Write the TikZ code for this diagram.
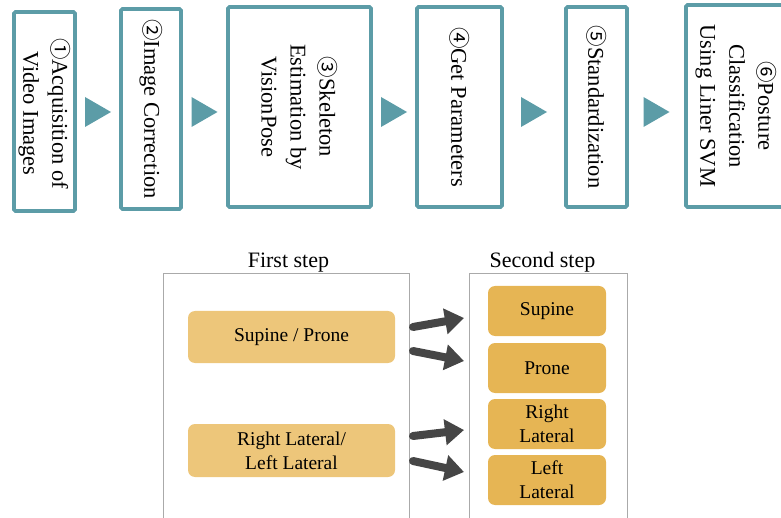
\documentclass[tikz,border=0pt]{standalone}
\usepackage{fontspec}
\setmainfont{Liberation Serif}
\newfontfamily\numfont{Noto Sans CJK JP}
\usetikzlibrary{calc,arrows.meta}
\definecolor{tealline}{RGB}{92,156,167}
\definecolor{lightgold}{RGB}{237,198,122}
\definecolor{gold}{RGB}{230,181,84}
\definecolor{framegray}{RGB}{170,170,170}
\definecolor{arrowgray}{RGB}{70,70,70}
\newcommand{\cnum}[1]{{\numfont\fontsize{21.5}{21.5}\selectfont #1}}

\begin{document}
\begin{tikzpicture}[x=1pt,y=-1pt,
  stagebox/.style={draw=tealline, line width=3.8pt, rounded corners=1.5pt, inner sep=0pt, fill=white},
  stagetext/.style={rotate=-90, align=center, font=\fontsize{22.5}{29}\selectfont, inner sep=0pt},
  flowtip/.style={fill=tealline},
  frame/.style={draw=framegray, line width=0.9pt, inner sep=0pt, anchor=north west},
  steplabel/.style={font=\fontsize{22}{26}\selectfont, anchor=south, inner sep=0.5pt},
  groupbox/.style={fill=lightgold, rounded corners=7pt, align=center, font=\fontsize{19.5}{24}\selectfont, inner sep=0pt},
  classbox/.style={fill=gold, rounded corners=7pt, align=center, font=\fontsize{19.5}{24}\selectfont, inner sep=0pt},
  bigarrow/.style={draw=arrowgray, line width=8pt, line cap=round, -{Triangle[length=19pt,width=25pt]}}
]
\useasboundingbox (0,0) rectangle (781,518);
\clip (0,0) rectangle (781,518);

% processing stages
\node[stagebox, minimum width=61pt,  minimum height=199pt] (b1) at (44.5,111.5) {};
\node[stagebox, minimum width=60pt,  minimum height=200pt] (b2) at (151,109) {};
\node[stagebox, minimum width=143pt, minimum height=200pt] (b3) at (299.5,107) {};
\node[stagebox, minimum width=85pt,  minimum height=200pt] (b4) at (459.5,107) {};
\node[stagebox, minimum width=61pt,  minimum height=200pt] (b5) at (596.5,107) {};
\node[stagebox, minimum width=100pt, minimum height=202pt] (b6) at (736,106) {};

\node[stagetext] (l1) at ($(b1.center)+(0,2)$) {\cnum{①}Acquisition of\\Video Images};
\node[stagetext] (l2) at (b2.center) {\cnum{②}Image Correction};
\node[stagetext] (l3) at (b3.center) {\cnum{③}Skeleton\\Estimation by\\VisionPose};
\node[stagetext] (l4) at (b4.center) {\cnum{④}Get Parameters};
\node[stagetext] (l5) at (b5.center) {\cnum{⑤}Standardization};
\node[stagetext] (l6) at (b6.center) {\cnum{⑥}Posture\\Classification\\Using Liner SVM};

% flow triangles between the stages
\foreach \a/\b/\t in {b1/b2/t1, b2/b3/t2, b3/b4/t3, b4/b5/t4, b5/b6/t5}{
  \coordinate (m\t) at ($(\a.east)!.5!(\b.west)$);
  \coordinate (\t) at (m\t |- 0,112);
  \fill[flowtip] ($(\t)+(-13,-15)$) -- ($(\t)+(13,0)$) -- ($(\t)+(-13,15)$) -- cycle;
}

% two-step classification
\node[frame, minimum width=246pt, minimum height=300pt] (f1) at (163,273) {};
\node[frame, minimum width=158pt, minimum height=300pt] (f2) at (469,273) {};
\node[steplabel, xshift=2pt] (f1l) at (f1.north) {First step};
\node[steplabel, xshift=-6pt] (f2l) at (f2.north) {Second step};

\node[groupbox, minimum width=207pt, minimum height=52pt] (g1) at (291.5,337) {Supine / Prone};
\node[groupbox, minimum width=207pt, minimum height=53pt] (g2) at (291.5,450.5) {Right Lateral/\\Left Lateral};

\node[classbox, minimum width=118pt, minimum height=50pt] (c1) at (547,311) {Supine};
\node[classbox, minimum width=118pt, minimum height=50pt] (c2) at (547,368) {Prone};
\node[classbox, minimum width=118pt, minimum height=50pt] (c3) at (547,424) {Right\\Lateral};
\node[classbox, minimum width=118pt, minimum height=50pt] (c4) at (547,480) {Left\\Lateral};

\coordinate (a1s) at (413,327); \coordinate (a1e) at (464,318);
\coordinate (a2s) at (413,351); \coordinate (a2e) at (464,361);
\coordinate (a3s) at (413,436); \coordinate (a3e) at (464,430);
\coordinate (a4s) at (413,461); \coordinate (a4e) at (464,472);
\draw[bigarrow] (a1s) -- (a1e);
\draw[bigarrow] (a2s) -- (a2e);
\draw[bigarrow] (a3s) -- (a3e);
\draw[bigarrow] (a4s) -- (a4e);
\end{tikzpicture}
\end{document}
